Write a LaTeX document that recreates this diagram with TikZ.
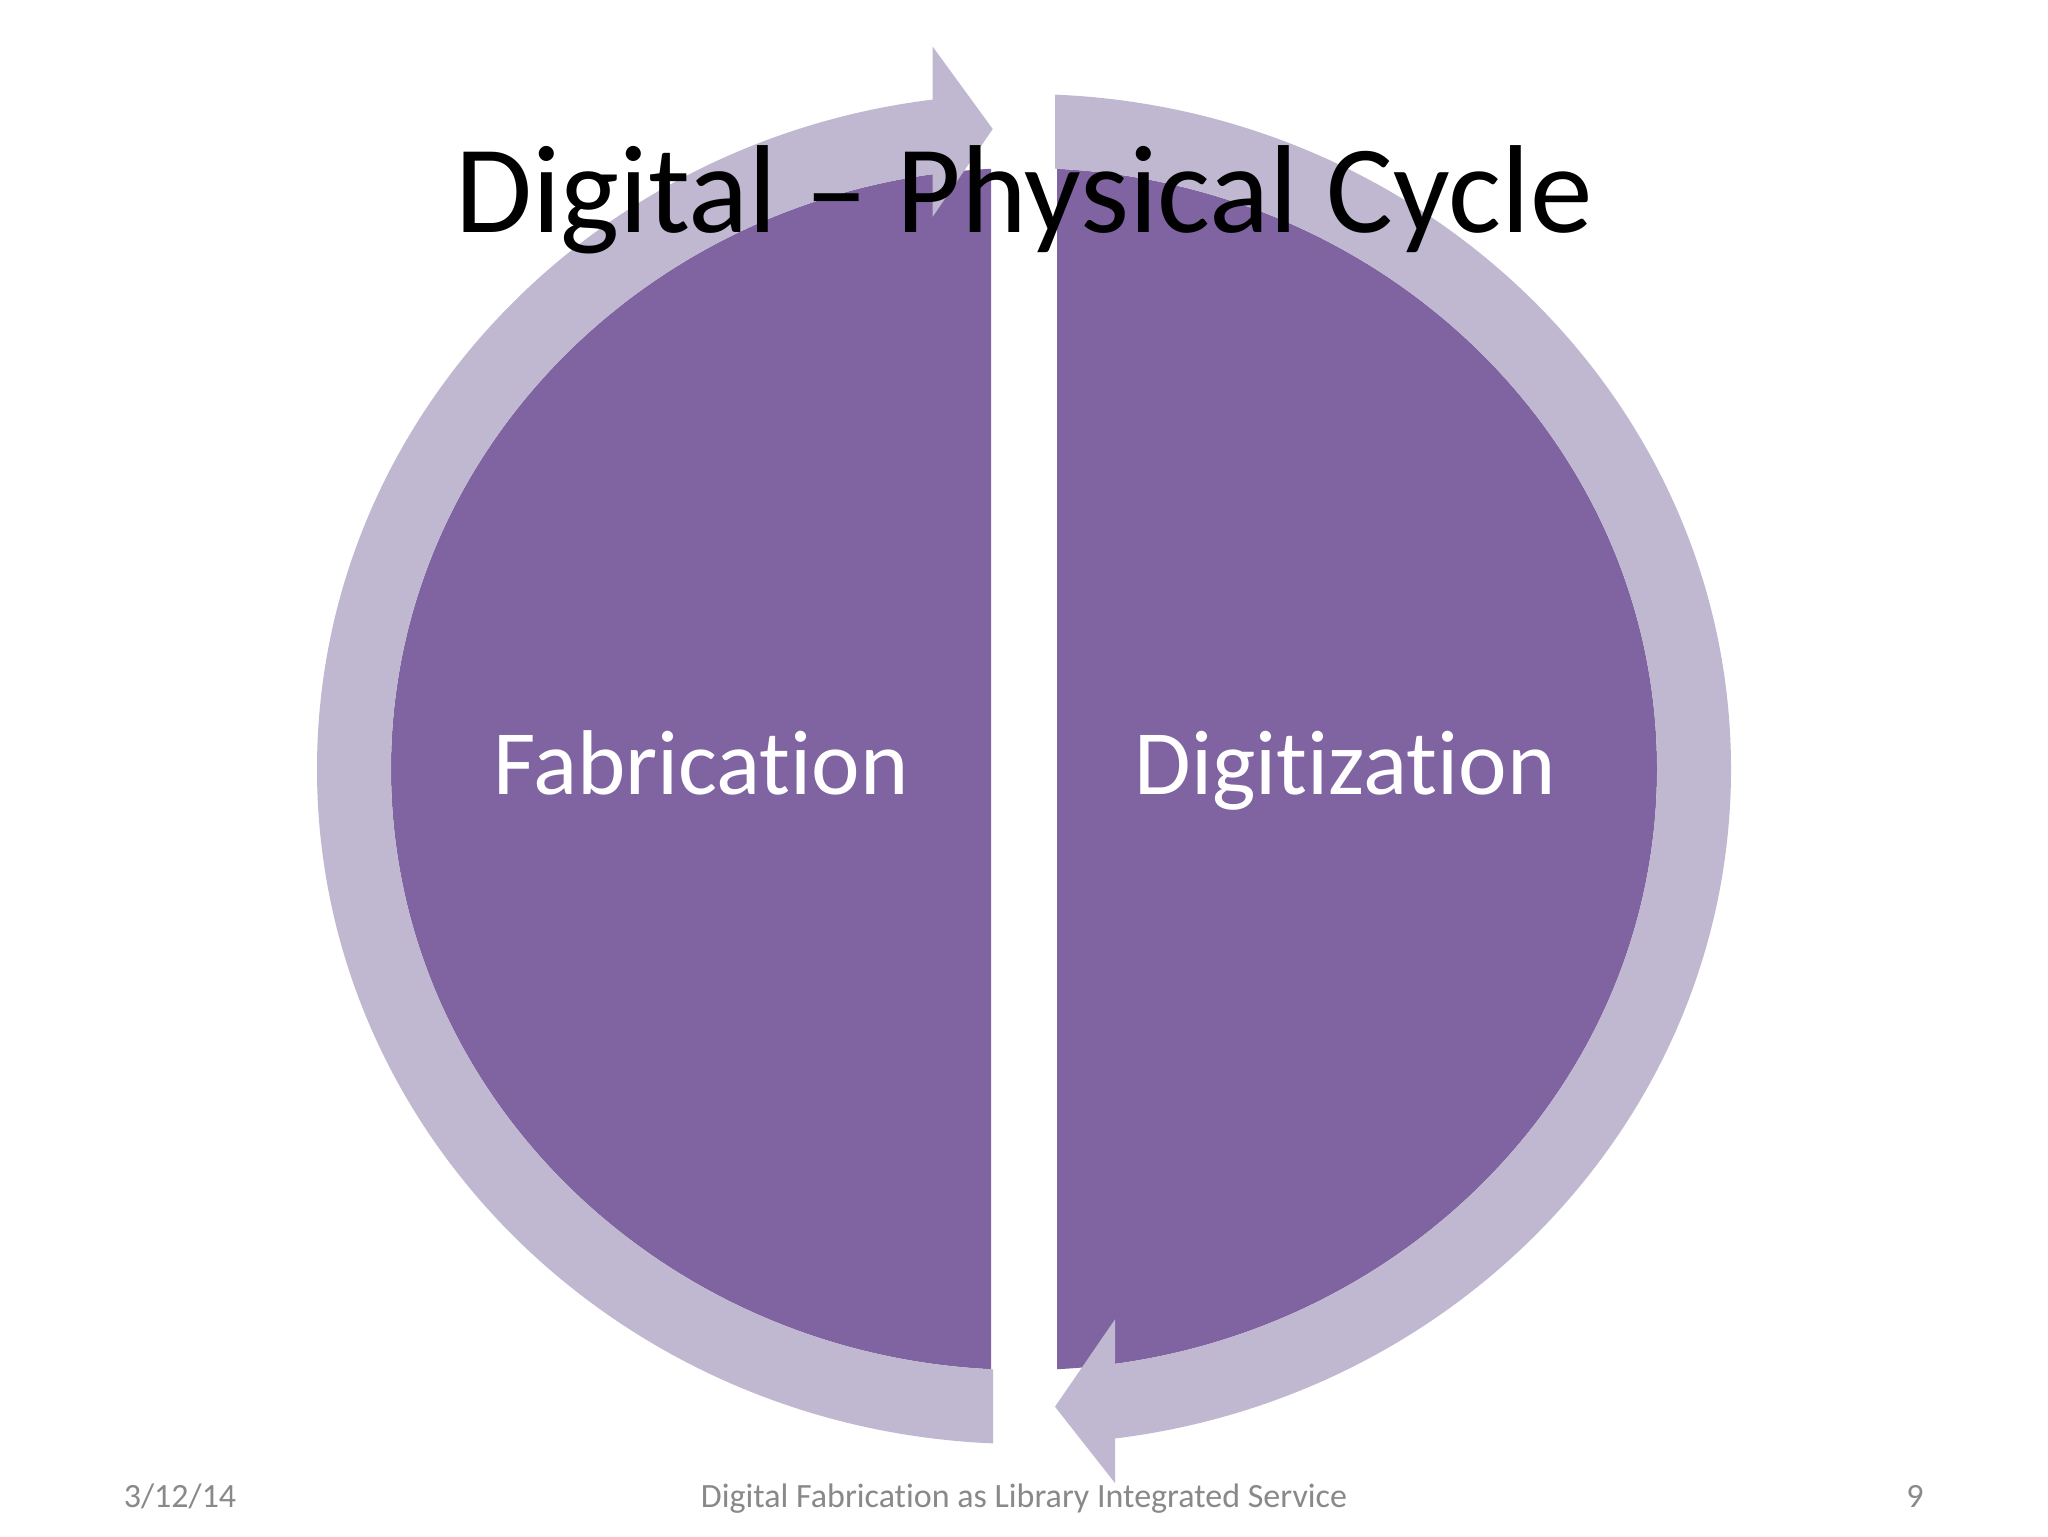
\documentclass[tikz,border=0pt]{standalone}
\usepackage{fontspec}
\setmainfont{Carlito}[Ligatures={NoCommon}]
\definecolor{purp}{HTML}{8064A2}
\definecolor{ringc}{HTML}{C0B7D0}
\definecolor{footc}{HTML}{898989}
\tikzset{
  disc/.style={fill=purp},
  ringband/.style={fill=ringc, even odd rule},
  head/.style={fill=ringc},
  lbl/.style={text=white, font=\fontsize{46}{55}\selectfont, anchor=base, inner sep=0pt},
  foot/.style={text=footc, font=\fontsize{17}{20}\selectfont, anchor=base, inner sep=0pt}
}
\begin{document}
\begin{tikzpicture}[x=0.5pt, y=-0.5pt]
\fill[white] (0,0) rectangle (2048,1536);
\useasboundingbox (0,0) rectangle (2048,1536);
\coordinate (c) at (1024,769);
% purple halves
\begin{scope}
  \clip (0,0) rectangle (991,1536);
  \fill[disc] (c) ellipse [x radius=633, y radius=601];
\end{scope}
\begin{scope}
  \clip (1057,0) rectangle (2048,1536);
  \fill[disc] (c) ellipse [x radius=633, y radius=601];
\end{scope}
% left arrow (bottom -> around left -> top)
\begin{scope}
  \clip (0,0) rectangle (934,769) (0,769) rectangle (993,1536);
  \fill[ringband] (c) ellipse [x radius=707, y radius=675] (c) ellipse [x radius=633, y radius=601];
\end{scope}
\fill[head] (932.7,46.7) -- (992.7,129) -- (932.7,216.7) -- cycle;
% right arrow (top -> around right -> bottom)
\begin{scope}
  \clip (1055,0) rectangle (2048,769) (1114,769) rectangle (2048,1536);
  \fill[ringband] (c) ellipse [x radius=707, y radius=675] (c) ellipse [x radius=633, y radius=601];
\end{scope}
\fill[head] (1115,1319.3) -- (1055,1406.7) -- (1115,1483) -- cycle;
% texts
\node[anchor=base, inner sep=0pt, font=\fontsize{62.6}{75}\selectfont] (title) at (1024,232) {Digital – Physical Cycle};
\node[lbl] (fab) at (701,794) {Fabrication};
\node[lbl] (dig) at (1345,794) {Digitization};
\node[foot] (date) at (180,1507) {3/12/14};
\node[foot] (ftxt) at (1024,1507) {Digital Fabrication as Library Integrated Service};
\node[foot] (pnum) at (1915,1507) {9};
\end{tikzpicture}
\end{document}
